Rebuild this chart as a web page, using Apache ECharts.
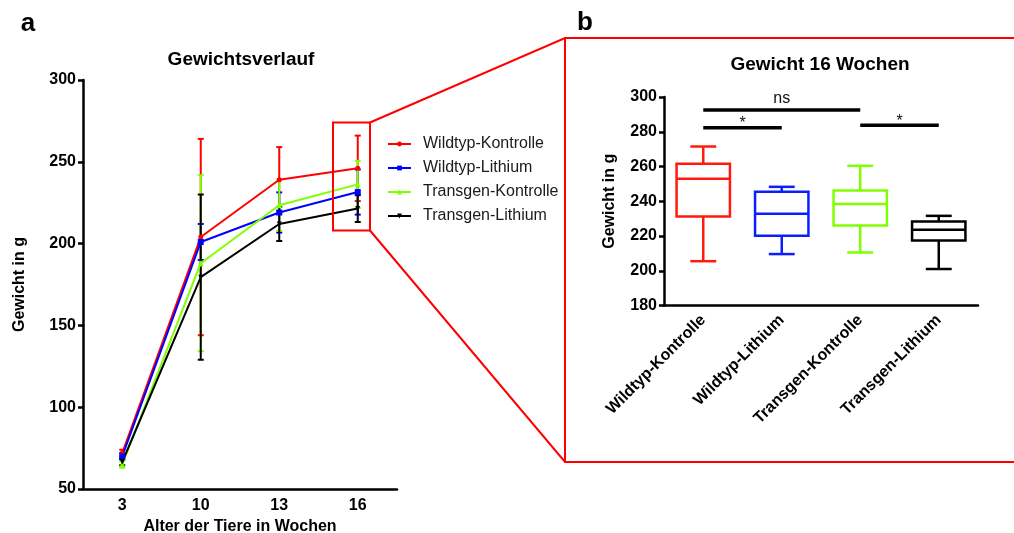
<!DOCTYPE html>
<html style="height: 100%">
<head>
    <meta charset="utf-8">
    <title>Gewichtsverlauf</title>
</head>
<body style="height: 100%; margin: 0; background: #fff">
<div id="container" style="width: 1014px; height: 533px"></div>
<script type="text/javascript" src="https://cdn.jsdelivr.net/npm/echarts@6/dist/echarts.min.js"></script>

<script type="text/javascript">
    // Werte
    var weeks = ['3', '10', '13', '16'];
    var groups = ['Wildtyp-Kontrolle', 'Wildtyp-Lithium', 'Transgen-Kontrolle', 'Transgen-Lithium'];

    var meanWK = [72, 204, 239, 246];
    var sdWK = [2, 60, 20, 20];
    var meanWL = [70, 201, 219, 231.5];
    var sdWL = [2, 11, 12.3, 13.8];
    var meanTK = [65, 188, 223.4, 236.2];
    var sdTK = [2, 53.8, 15.7, 14.4];
    var meanTL = [66.5, 179.5, 212, 221.4];
    var sdTL = [2, 50.5, 10.4, 8.2];

    // Boxplot 16 Wochen: min, Q1, Median, Q3, max
    var boxWK = [205.5, 231.2, 253, 261.6, 271.5];
    var boxWL = [209.6, 220.1, 232.8, 245.5, 248.3];
    var boxTK = [210.5, 226.1, 238.4, 246.2, 260.4];
    var boxTL = [201, 217.4, 223.6, 228.4, 231.6];

    // Signifikanz: von, bis, Hoehe
    var sigFrom = [0, 0, 2];
    var sigTo = [1, 2, 3];
    var sigY = [282.3, 292.5, 283.8];
    var sigText = ['*', 'ns', '*'];

    var colors = ['#ff0000', '#0000ff', '#80ff00', '#000000'];
    var boxColors = ['#ff1a0d', '#0a1eff', '#80ff00', '#000000'];
    var FONT = 'Liberation Sans, Arial, sans-serif';

    var dom = document.getElementById("container");
    var myChart = echarts.init(dom);

    function errData(mean, sd) {
        return mean.map(function (m, i) { return [i, m - sd[i], m + sd[i]]; });
    }

    function renderErr(params, api) {
        var x = api.value(0);
        var top = api.coord([x, api.value(2)]);
        var bot = api.coord([x, api.value(1)]);
        var c = api.visual('color');
        var st = {stroke: c, lineWidth: 2};
        return {
            type: 'group',
            children: [
                {type: 'line', shape: {x1: top[0], y1: top[1], x2: bot[0], y2: bot[1]}, style: st},
                {type: 'line', shape: {x1: top[0] - 3, y1: top[1], x2: top[0] + 3, y2: top[1]}, style: st},
                {type: 'line', shape: {x1: bot[0] - 3, y1: bot[1], x2: bot[0] + 3, y2: bot[1]}, style: st}
            ]
        };
    }

    function renderBox(params, api) {
        var i = api.value(0);
        var c = boxColors[params.dataIndex];
        var band = api.size([1, 0])[0];
        var hw = band * 0.34, cw = band * 0.165;
        var pMin = api.coord([i, api.value(1)]);
        var pQ1 = api.coord([i, api.value(2)]);
        var pMed = api.coord([i, api.value(3)]);
        var pQ3 = api.coord([i, api.value(4)]);
        var pMax = api.coord([i, api.value(5)]);
        var x = pMed[0];
        var st = {stroke: c, lineWidth: 2.5, fill: null};
        function ln(x1, y1, x2, y2) {
            return {type: 'line', shape: {x1: x1, y1: y1, x2: x2, y2: y2}, style: st};
        }
        return {
            type: 'group',
            children: [
                {type: 'rect', shape: {x: x - hw, y: pQ3[1], width: hw * 2, height: pQ1[1] - pQ3[1]}, style: st},
                ln(x - hw, pMed[1], x + hw, pMed[1]),
                ln(x, pQ3[1], x, pMax[1]),
                ln(x, pQ1[1], x, pMin[1]),
                ln(x - cw, pMax[1], x + cw, pMax[1]),
                ln(x - cw, pMin[1], x + cw, pMin[1])
            ]
        };
    }

    function renderSig(params, api) {
        var p0 = api.coord([api.value(0), api.value(2)]);
        var p1 = api.coord([api.value(1), api.value(2)]);
        var t = sigText[params.dataIndex];
        var star = t === '*';
        return {
            type: 'group',
            children: [
                {type: 'line', shape: {x1: p0[0], y1: p0[1], x2: p1[0], y2: p1[1]}, style: {stroke: '#000', lineWidth: 3.5}},
                {type: 'text', x: (p0[0] + p1[0]) / 2, y: p0[1] + (star ? 4 : -3), style: {
                    text: t, fill: '#111', font: '16px ' + FONT, align: 'center', verticalAlign: 'bottom'
                }}
            ]
        };
    }

    var means = [meanWK, meanWL, meanTK, meanTL];
    var sds = [sdWK, sdWL, sdTK, sdTL];
    var symbols = ['circle', 'rect', 'triangle', 'triangle'];
    var symSize = [5, 6, 6, 5];
    var symRot = [0, 0, 0, 180];

    var series = [];
    groups.forEach(function (g, k) {
        series.push({
            name: g,
            type: 'line',
            xAxisIndex: 0,
            yAxisIndex: 0,
            data: means[k],
            symbol: symbols[k],
            symbolSize: symSize[k],
            symbolRotate: symRot[k],
            lineStyle: {color: colors[k], width: 2},
            itemStyle: {color: colors[k]},
            animation: false
        });
        series.push({
            name: 'err-' + g,
            type: 'custom',
            xAxisIndex: 0,
            yAxisIndex: 0,
            data: errData(means[k], sds[k]),
            encode: {x: 0, y: [1, 2]},
            itemStyle: {color: colors[k]},
            renderItem: renderErr,
            animation: false
        });
    });

    var boxes = [boxWK, boxWL, boxTK, boxTL];
    series.push({
        name: 'box16',
        type: 'custom',
        xAxisIndex: 1,
        yAxisIndex: 1,
        data: boxes.map(function (b, i) { return [i].concat(b); }),
        encode: {x: 0, y: [1, 2, 3, 4, 5]},
        renderItem: renderBox,
        animation: false
    });
    series.push({
        name: 'sig',
        type: 'custom',
        xAxisIndex: 1,
        yAxisIndex: 1,
        data: sigY.map(function (y, i) { return [sigFrom[i], sigTo[i], y]; }),
        encode: {x: [0, 1], y: 2},
        renderItem: renderSig,
        animation: false
    });

    var axisLineStyle = {color: '#000', width: 2.5};
    var tickLabel = {color: '#000', fontWeight: 'bold', fontSize: 16, fontFamily: FONT};
    var nameStyle = {color: '#000', fontWeight: 'bold', fontSize: 16, fontFamily: FONT};
    var red = {stroke: '#ff0000', lineWidth: 2, fill: null};

    option = {
        backgroundColor: '#fff',
        animation: false,
        grid: [
            {left: 83, top: 80, width: 314, height: 409, outerBoundsMode: 'none'},
            {left: 664, top: 97, width: 314, height: 208.5, outerBoundsMode: 'none'}
        ],
        legend: {
            orient: 'vertical',
            left: 387,
            top: 136,
            padding: 0,
            itemWidth: 23,
            itemHeight: 6,
            itemGap: 8,
            data: groups,
            textStyle: {color: '#1a1a1a', fontSize: 16, fontFamily: FONT, padding: [0, 0, 0, 7]}
        },
        xAxis: [
            {
                gridIndex: 0,
                type: 'category',
                data: weeks,
                axisLine: {lineStyle: axisLineStyle},
                axisTick: {alignWithLabel: true, length: 5, lineStyle: axisLineStyle},
                axisLabel: Object.assign({margin: 9}, tickLabel),
                name: 'Alter der Tiere in Wochen',
                nameLocation: 'middle',
                nameGap: 27,
                nameTextStyle: nameStyle
            },
            {
                gridIndex: 1,
                type: 'category',
                data: groups,
                axisLine: {lineStyle: axisLineStyle},
                axisTick: {alignWithLabel: true, length: 5, lineStyle: axisLineStyle},
                axisLabel: Object.assign({margin: 12, rotate: 45, interval: 0}, tickLabel)
            }
        ],
        yAxis: [
            {
                gridIndex: 0,
                type: 'value',
                min: 50,
                max: 300,
                interval: 50,
                splitLine: {show: false},
                axisLine: {show: true, lineStyle: axisLineStyle},
                axisTick: {show: true, length: 5, lineStyle: axisLineStyle},
                axisLabel: Object.assign({margin: 7}, tickLabel),
                name: 'Gewicht in g',
                nameLocation: 'middle',
                nameGap: 55,
                nameTextStyle: nameStyle
            },
            {
                gridIndex: 1,
                type: 'value',
                min: 180,
                max: 300,
                interval: 20,
                splitLine: {show: false},
                axisLine: {show: true, lineStyle: axisLineStyle},
                axisTick: {show: true, length: 5, lineStyle: axisLineStyle},
                axisLabel: Object.assign({margin: 7}, tickLabel),
                name: 'Gewicht in g',
                nameLocation: 'middle',
                nameGap: 46,
                nameTextStyle: nameStyle
            }
        ],
        graphic: [
            {type: 'text', x: 28, y: 24, style: {text: 'a', font: 'bold 26px ' + FONT, fill: '#000', align: 'center', verticalAlign: 'middle'}},
            {type: 'text', x: 585, y: 23, style: {text: 'b', font: 'bold 26px ' + FONT, fill: '#000', align: 'center', verticalAlign: 'middle'}},
            {type: 'text', x: 241, y: 60, style: {text: 'Gewichtsverlauf', font: 'bold 19px ' + FONT, fill: '#000', align: 'center', verticalAlign: 'middle'}},
            {type: 'text', x: 820, y: 65, style: {text: 'Gewicht 16 Wochen', font: 'bold 19px ' + FONT, fill: '#000', align: 'center', verticalAlign: 'middle'}},
            {type: 'rect', shape: {x: 333, y: 122.5, width: 37, height: 108}, style: red, z: 10},
            {type: 'polyline', shape: {points: [[370, 122.5], [565, 38], [1016, 38]]}, style: red, z: 10},
            {type: 'polyline', shape: {points: [[370, 230.5], [565, 462], [1016, 462]]}, style: red, z: 10},
            {type: 'line', shape: {x1: 565, y1: 38, x2: 565, y2: 462}, style: red, z: 10}
        ],
        series: series
    };

    if (option && typeof option === "object") {
        myChart.setOption(option, true);
    }
</script>
</body>
</html>
